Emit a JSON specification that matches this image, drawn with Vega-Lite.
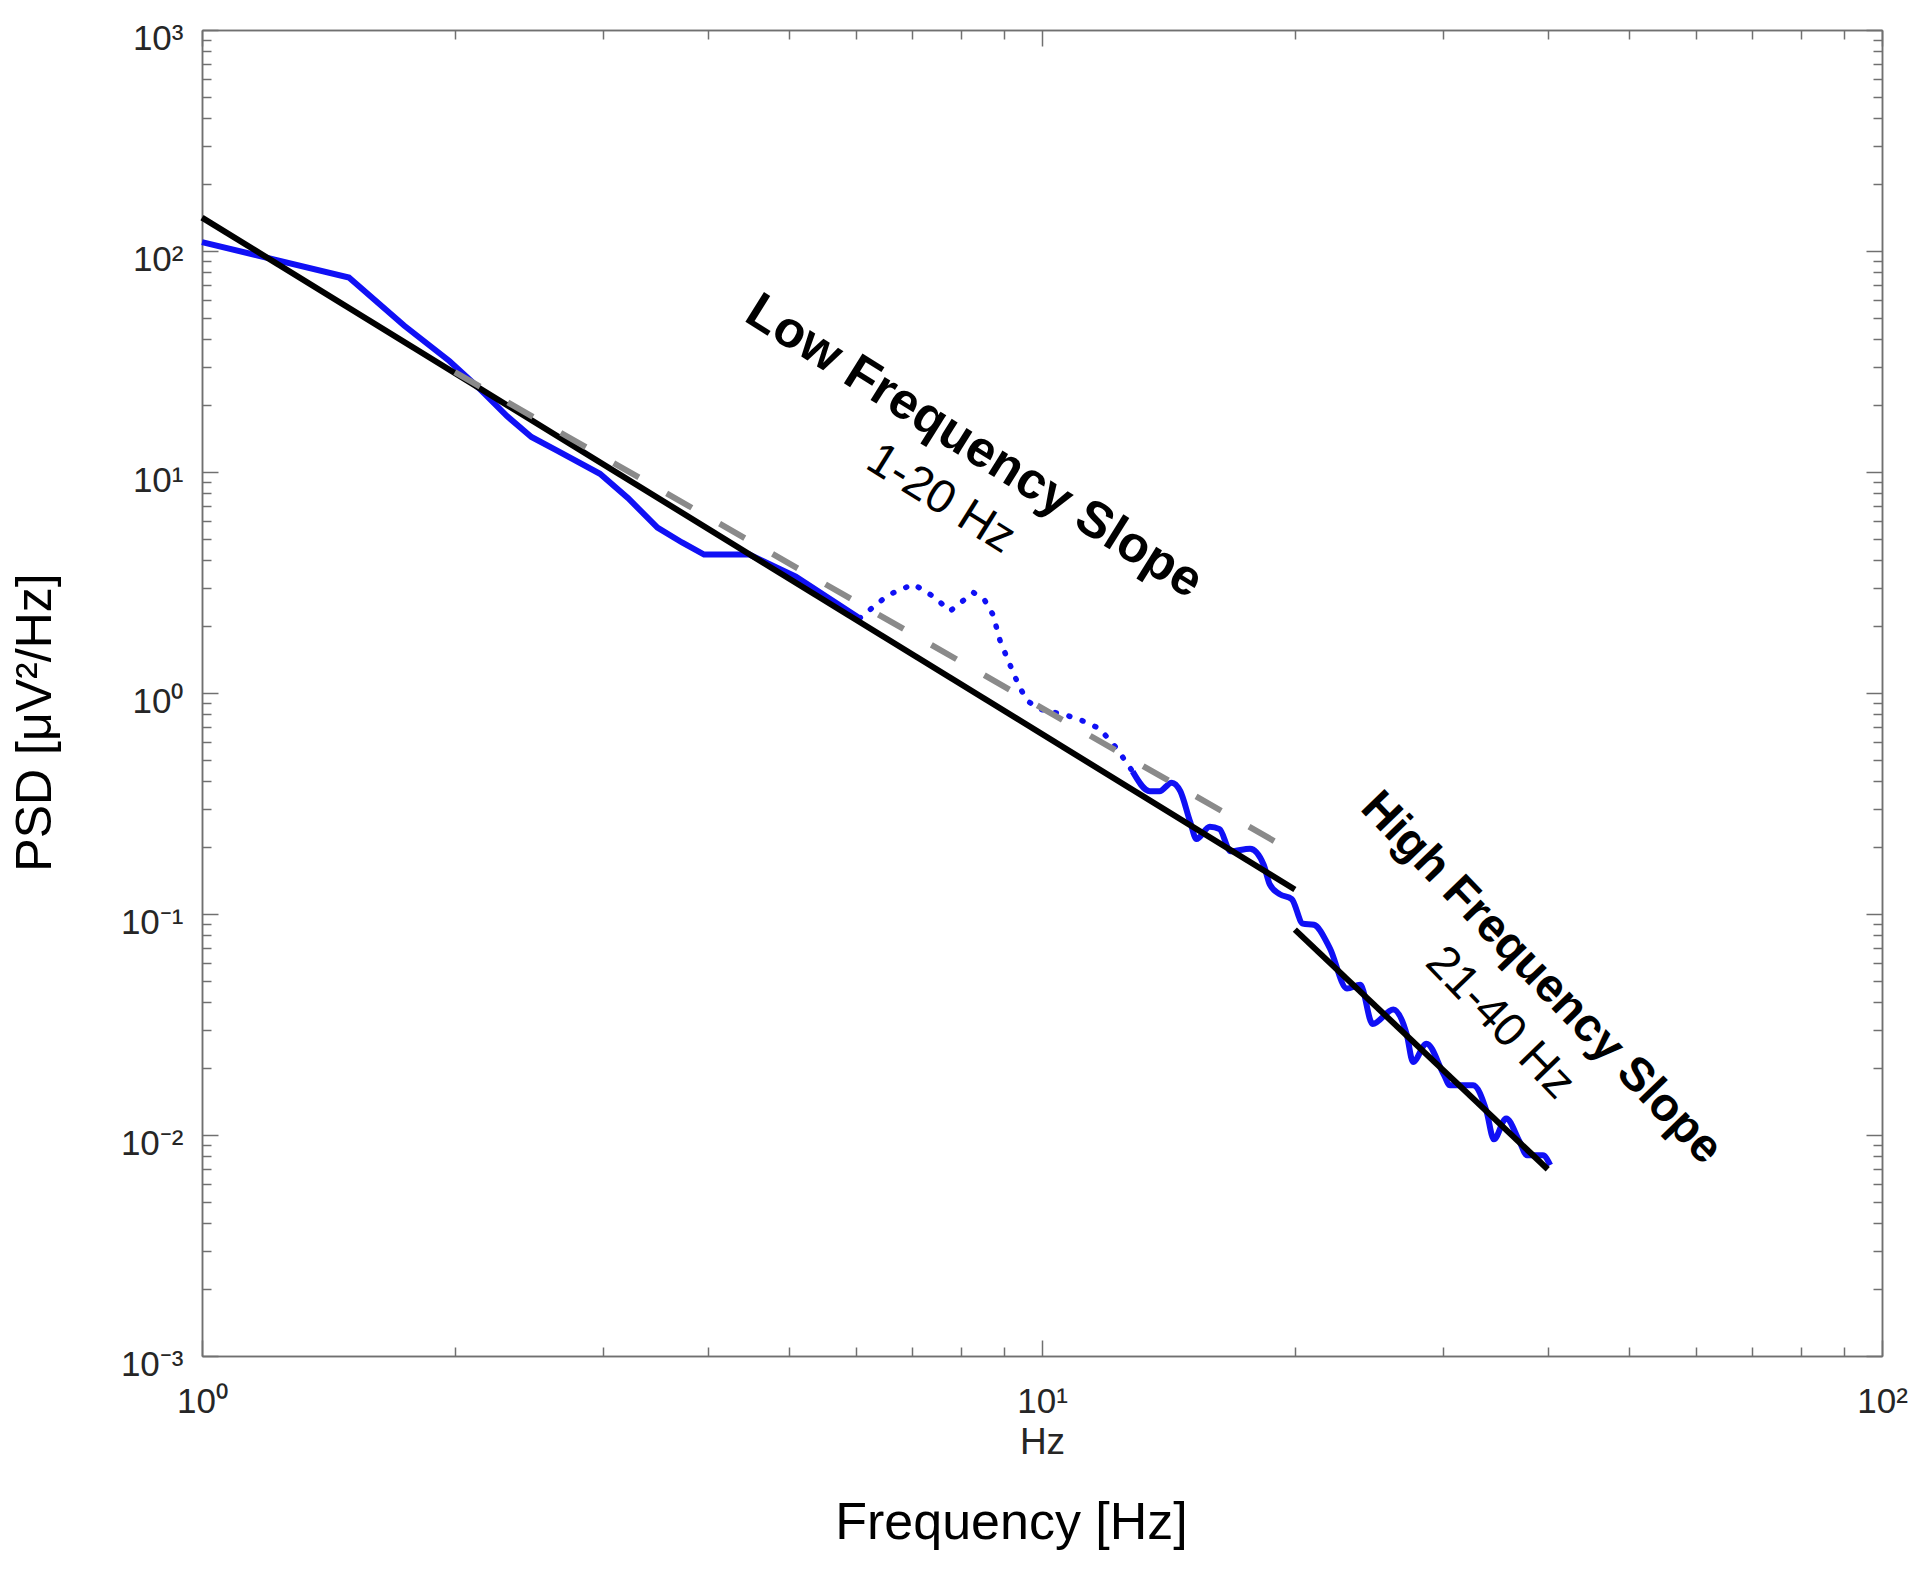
{
  "$schema": "https://vega.github.io/schema/vega-lite/v6.json",
  "width": 1680,
  "height": 1326,
  "autosize": {"type": "none"},
  "padding": {"left": 202, "top": 30, "right": 38, "bottom": 230},
  "background": "white",
  "config": {
    "view": {"stroke": null},
    "axis": {
      "grid": false,
      "domainColor": "#707070",
      "domainWidth": 1.5,
      "tickColor": "#707070",
      "tickWidth": 1.5,
      "labelFont": "Liberation Sans",
      "labelColor": "#262626",
      "titleFont": "Liberation Sans",
      "labelFlush": false,
      "labelOverlap": false
    }
  },
  "datasets": {
    "psd": [
      {"f": 1.0, "psd": 109.7, "part": "a"},
      {"f": 1.496, "psd": 75.8, "part": "a"},
      {"f": 1.74, "psd": 46.0, "part": "a"},
      {"f": 1.97, "psd": 31.8, "part": "a"},
      {"f": 2.135, "psd": 24.0, "part": "a"},
      {"f": 2.307, "psd": 17.9, "part": "a"},
      {"f": 2.467, "psd": 14.4, "part": "a"},
      {"f": 2.647, "psd": 12.5, "part": "a"},
      {"f": 2.977, "psd": 9.82, "part": "a"},
      {"f": 3.216, "psd": 7.61, "part": "a"},
      {"f": 3.485, "psd": 5.6, "part": "a"},
      {"f": 3.728, "psd": 4.8, "part": "a"},
      {"f": 3.96, "psd": 4.23, "part": "a"},
      {"f": 4.165, "psd": 4.23, "part": "a"},
      {"f": 4.483, "psd": 4.23, "part": "a"},
      {"f": 5.093, "psd": 3.36, "part": "a"},
      {"f": 6.065, "psd": 2.18, "part": "a"},
      {"f": 6.065, "psd": 2.18, "part": "b"},
      {"f": 6.553, "psd": 2.77, "part": "b"},
      {"f": 7.03, "psd": 3.11, "part": "b"},
      {"f": 7.418, "psd": 2.74, "part": "b"},
      {"f": 7.775, "psd": 2.35, "part": "b"},
      {"f": 8.285, "psd": 2.85, "part": "b"},
      {"f": 8.54, "psd": 2.64, "part": "b"},
      {"f": 8.743, "psd": 2.26, "part": "b"},
      {"f": 8.92, "psd": 1.71, "part": "b"},
      {"f": 9.226, "psd": 1.257, "part": "b"},
      {"f": 9.414, "psd": 1.051, "part": "b"},
      {"f": 9.638, "psd": 0.913, "part": "b"},
      {"f": 9.933, "psd": 0.846, "part": "b"},
      {"f": 10.7, "psd": 0.793, "part": "b"},
      {"f": 11.21, "psd": 0.745, "part": "b"},
      {"f": 11.71, "psd": 0.69, "part": "b"},
      {"f": 12.27, "psd": 0.562, "part": "b"},
      {"f": 12.82, "psd": 0.441, "part": "b"},
      {"f": 12.82, "psd": 0.441, "part": "c"},
      {"f": 13.44, "psd": 0.3594, "part": "c"},
      {"f": 13.8, "psd": 0.3594, "part": "c"},
      {"f": 14.27, "psd": 0.393, "part": "c"},
      {"f": 14.61, "psd": 0.3594, "part": "c"},
      {"f": 15.01, "psd": 0.2613, "part": "c"},
      {"f": 15.27, "psd": 0.2185, "part": "c"},
      {"f": 15.84, "psd": 0.2482, "part": "c"},
      {"f": 16.27, "psd": 0.242, "part": "c"},
      {"f": 16.77, "psd": 0.1923, "part": "c"},
      {"f": 17.69, "psd": 0.1973, "part": "c"},
      {"f": 18.36, "psd": 0.1671, "part": "c"},
      {"f": 18.67, "psd": 0.1362, "part": "c"},
      {"f": 19.18, "psd": 0.123, "part": "c"},
      {"f": 19.83, "psd": 0.1168, "part": "c"},
      {"f": 20.44, "psd": 0.0905, "part": "c"},
      {"f": 21.07, "psd": 0.0894, "part": "c"},
      {"f": 22.01, "psd": 0.0701, "part": "c"},
      {"f": 23.07, "psd": 0.046, "part": "c"},
      {"f": 23.93, "psd": 0.0478, "part": "c"},
      {"f": 24.75, "psd": 0.0318, "part": "c"},
      {"f": 26.2, "psd": 0.037, "part": "c"},
      {"f": 27.19, "psd": 0.0283, "part": "c"},
      {"f": 27.65, "psd": 0.0214, "part": "c"},
      {"f": 28.69, "psd": 0.0259, "part": "c"},
      {"f": 30.08, "psd": 0.0188, "part": "c"},
      {"f": 30.59, "psd": 0.0168, "part": "c"},
      {"f": 32.6, "psd": 0.0168, "part": "c"},
      {"f": 33.82, "psd": 0.0128, "part": "c"},
      {"f": 34.51, "psd": 0.00956, "part": "c"},
      {"f": 35.69, "psd": 0.01188, "part": "c"},
      {"f": 37.03, "psd": 0.00932, "part": "c"},
      {"f": 37.79, "psd": 0.0081, "part": "c"},
      {"f": 39.47, "psd": 0.0081, "part": "c"},
      {"f": 40.27, "psd": 0.00731, "part": "c"}
    ],
    "fits": [
      {"f": 1, "psd": 141.6, "fit": "low"},
      {"f": 20, "psd": 0.129, "fit": "low"},
      {"f": 20, "psd": 0.085, "fit": "high"},
      {"f": 40, "psd": 0.007, "fit": "high"},
      {"f": 2, "psd": 28.3, "fit": "gray"},
      {"f": 20, "psd": 0.189, "fit": "gray"}
    ],
    "notes": [
      {"f": 8.3, "psd": 13.0, "note": "Low Frequency Slope"},
      {"f": 7.58, "psd": 7.56, "note": "1-20 Hz"},
      {"f": 39.3, "psd": 0.0513, "note": "High Frequency Slope"},
      {"f": 35.1, "psd": 0.0322, "note": "21-40 Hz"}
    ]
  },
  "resolve": {"axis": {"x": "independent", "y": "independent"}},
  "layer": [
    {
      "data": {"name": "psd"},
      "transform": [{"filter": "datum.part === 'a'"}],
      "mark": {"type": "line", "color": "#1010f5", "strokeWidth": 6},
      "encoding": {
        "x": {"field": "f", "type": "quantitative", "scale": {"type": "log", "domain": [1, 100], "nice": false},
          "axis": {"orient": "bottom", "values": [1, 10, 100], "tickSize": -16, "labelPadding": 44, "labelFontSize": 35,
            "labelExpr": "['10⁰','10¹','10²'][round(log(datum.value)/LN10)]",
            "title": "Hz", "titleFontSize": 37, "titleFontWeight": "normal", "titleColor": "#262626", "titlePadding": 5}},
        "y": {"field": "psd", "type": "quantitative", "scale": {"type": "log", "domain": [0.001, 1000], "nice": false},
          "axis": {"orient": "left", "values": [0.001, 0.01, 0.1, 1, 10, 100, 1000], "tickSize": -16, "labelPadding": 35, "labelFontSize": 35, "labelOffset": 8,
            "labelExpr": "['10⁻³','10⁻²','10⁻¹','10⁰','10¹','10²','10³'][round(log(datum.value)/LN10)+3]",
            "title": "PSD [μV²/Hz]", "titleFontSize": 50, "titleFontWeight": "normal", "titleColor": "#000000", "titlePadding": 60, "titleY": 692}}
      }
    },
    {
      "data": {"name": "psd"},
      "transform": [{"filter": "datum.part === 'b'"}],
      "mark": {"type": "line", "color": "#1010f5", "strokeWidth": 5.5, "strokeDash": [1, 13], "strokeCap": "round"},
      "encoding": {
        "x": {"field": "f", "type": "quantitative", "scale": {"type": "log", "domain": [1, 100], "nice": false},
          "axis": {"orient": "top", "values": [1, 10, 100], "tickSize": -16, "labels": false, "title": null}},
        "y": {"field": "psd", "type": "quantitative", "scale": {"type": "log", "domain": [0.001, 1000], "nice": false},
          "axis": {"orient": "right", "values": [0.001, 0.01, 0.1, 1, 10, 100, 1000], "tickSize": -16, "labels": false, "title": null}}
      }
    },
    {
      "data": {"name": "psd"},
      "transform": [{"filter": "datum.part === 'c'"}],
      "mark": {"type": "line", "color": "#1010f5", "strokeWidth": 6, "interpolate": "monotone"},
      "encoding": {
        "x": {"field": "f", "type": "quantitative", "scale": {"type": "log", "domain": [1, 100], "nice": false},
          "axis": {"orient": "bottom", "values": [2, 3, 4, 5, 6, 7, 8, 9, 20, 30, 40, 50, 60, 70, 80, 90], "tickSize": -9, "labels": false,
            "title": "Frequency [Hz]", "titleFontSize": 52, "titleFontWeight": "normal", "titleColor": "#000000", "titlePadding": 141, "titleX": 809}},
        "y": {"field": "psd", "type": "quantitative", "scale": {"type": "log", "domain": [0.001, 1000], "nice": false},
          "axis": {"orient": "left", "values": [0.002, 0.003, 0.004, 0.005, 0.006, 0.007, 0.008, 0.009, 0.02, 0.03, 0.04, 0.05, 0.06, 0.07, 0.08, 0.09, 0.2, 0.3, 0.4, 0.5, 0.6, 0.7, 0.8, 0.9, 2, 3, 4, 5, 6, 7, 8, 9, 20, 30, 40, 50, 60, 70, 80, 90, 200, 300, 400, 500, 600, 700, 800, 900], "tickSize": -9, "labels": false, "title": null}}
      }
    },
    {
      "data": {"name": "fits"},
      "transform": [{"filter": "datum.fit === 'low'"}],
      "mark": {"type": "line", "color": "#000000", "strokeWidth": 6},
      "encoding": {
        "x": {"field": "f", "type": "quantitative", "scale": {"type": "log", "domain": [1, 100], "nice": false},
          "axis": {"orient": "top", "values": [2, 3, 4, 5, 6, 7, 8, 9, 20, 30, 40, 50, 60, 70, 80, 90], "tickSize": -9, "labels": false, "title": null}},
        "y": {"field": "psd", "type": "quantitative", "scale": {"type": "log", "domain": [0.001, 1000], "nice": false},
          "axis": {"orient": "right", "values": [0.002, 0.003, 0.004, 0.005, 0.006, 0.007, 0.008, 0.009, 0.02, 0.03, 0.04, 0.05, 0.06, 0.07, 0.08, 0.09, 0.2, 0.3, 0.4, 0.5, 0.6, 0.7, 0.8, 0.9, 2, 3, 4, 5, 6, 7, 8, 9, 20, 30, 40, 50, 60, 70, 80, 90, 200, 300, 400, 500, 600, 700, 800, 900], "tickSize": -9, "labels": false, "title": null}}
      }
    },
    {
      "data": {"name": "fits"},
      "transform": [{"filter": "datum.fit === 'high'"}],
      "mark": {"type": "line", "color": "#000000", "strokeWidth": 6},
      "encoding": {
        "x": {"field": "f", "type": "quantitative", "scale": {"type": "log", "domain": [1, 100], "nice": false}, "axis": null},
        "y": {"field": "psd", "type": "quantitative", "scale": {"type": "log", "domain": [0.001, 1000], "nice": false}, "axis": null}
      }
    },
    {
      "data": {"name": "fits"},
      "transform": [{"filter": "datum.fit === 'gray'"}],
      "mark": {"type": "line", "color": "#8a8a8a", "strokeWidth": 6, "strokeDash": [29, 32]},
      "encoding": {
        "x": {"field": "f", "type": "quantitative", "scale": {"type": "log", "domain": [1, 100], "nice": false}, "axis": null},
        "y": {"field": "psd", "type": "quantitative", "scale": {"type": "log", "domain": [0.001, 1000], "nice": false}, "axis": null}
      }
    },
    {
      "data": {"name": "notes"},
      "transform": [{"filter": "datum.note === 'Low Frequency Slope'"}],
      "mark": {"type": "text", "font": "Liberation Sans", "fontWeight": "bold", "fontSize": 51, "angle": 32, "align": "center", "baseline": "middle", "color": "#000000"},
      "encoding": {
        "x": {"field": "f", "type": "quantitative", "scale": {"type": "log", "domain": [1, 100], "nice": false}, "axis": null},
        "y": {"field": "psd", "type": "quantitative", "scale": {"type": "log", "domain": [0.001, 1000], "nice": false}, "axis": null},
        "text": {"field": "note"}
      }
    },
    {
      "data": {"name": "notes"},
      "transform": [{"filter": "datum.note === '1-20 Hz'"}],
      "mark": {"type": "text", "font": "Liberation Sans", "fontSize": 47, "angle": 32, "align": "center", "baseline": "middle", "color": "#000000"},
      "encoding": {
        "x": {"field": "f", "type": "quantitative", "scale": {"type": "log", "domain": [1, 100], "nice": false}, "axis": null},
        "y": {"field": "psd", "type": "quantitative", "scale": {"type": "log", "domain": [0.001, 1000], "nice": false}, "axis": null},
        "text": {"field": "note"}
      }
    },
    {
      "data": {"name": "notes"},
      "transform": [{"filter": "datum.note === 'High Frequency Slope'"}],
      "mark": {"type": "text", "font": "Liberation Sans", "fontWeight": "bold", "fontSize": 47, "angle": 46, "align": "center", "baseline": "middle", "color": "#000000"},
      "encoding": {
        "x": {"field": "f", "type": "quantitative", "scale": {"type": "log", "domain": [1, 100], "nice": false}, "axis": null},
        "y": {"field": "psd", "type": "quantitative", "scale": {"type": "log", "domain": [0.001, 1000], "nice": false}, "axis": null},
        "text": {"field": "note"}
      }
    },
    {
      "data": {"name": "notes"},
      "transform": [{"filter": "datum.note === '21-40 Hz'"}],
      "mark": {"type": "text", "font": "Liberation Sans", "fontSize": 47, "angle": 46, "align": "center", "baseline": "middle", "color": "#000000"},
      "encoding": {
        "x": {"field": "f", "type": "quantitative", "scale": {"type": "log", "domain": [1, 100], "nice": false}, "axis": null},
        "y": {"field": "psd", "type": "quantitative", "scale": {"type": "log", "domain": [0.001, 1000], "nice": false}, "axis": null},
        "text": {"field": "note"}
      }
    }
  ]
}
